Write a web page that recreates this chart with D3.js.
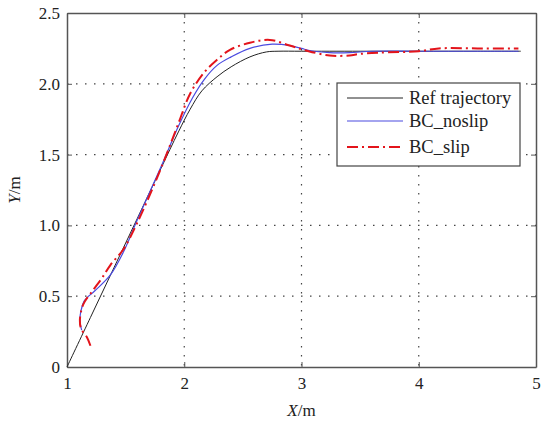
<!DOCTYPE html>
<html>
<head>
<meta charset="utf-8">
<script src="https://cdn.jsdelivr.net/npm/d3@7"></script>
<style>
  body { margin: 0; background: #fff; }
  text { font-family: "Liberation Serif", "Times New Roman", serif; fill: #222; }
</style>
</head>
<body>
<div id="chart"></div>
<script>
// reference trajectory
var refX = [1.0, 1.2, 1.4, 1.6, 1.8, 1.95, 2.05, 2.15, 2.28, 2.4, 2.56, 2.7, 2.8, 3.0, 3.5, 4.0, 4.5, 4.87]
var refY = [0.0, 0.35, 0.70, 1.05, 1.40, 1.66, 1.82, 1.95, 2.05, 2.12, 2.19, 2.225, 2.23, 2.23, 2.23, 2.23, 2.23, 2.23]

// BC_noslip
var noslipX = [1.125, 1.11, 1.12, 1.15, 1.24, 1.37, 1.48, 1.6, 1.8, 1.95, 2.07, 2.17, 2.28, 2.4, 2.56, 2.75, 2.9, 3.0, 3.07, 3.24, 3.41, 3.6, 4.0, 4.5, 4.85]
var noslipY = [0.26, 0.33, 0.40, 0.47, 0.54, 0.65, 0.81, 1.04, 1.41, 1.70, 1.90, 2.03, 2.13, 2.19, 2.25, 2.28, 2.27, 2.25, 2.235, 2.22, 2.22, 2.23, 2.23, 2.23, 2.23]

// BC_slip
var slipX = [1.20, 1.17, 1.12, 1.11, 1.125, 1.15, 1.22, 1.30, 1.37, 1.48, 1.6, 1.8, 1.95, 2.05, 2.17, 2.28, 2.39, 2.56, 2.73, 2.9, 3.04, 3.24, 3.41, 3.49, 3.66, 4.0, 4.17, 4.5, 4.85]
var slipY = [0.15, 0.21, 0.27, 0.33, 0.41, 0.46, 0.54, 0.63, 0.72, 0.83, 1.02, 1.40, 1.72, 1.93, 2.08, 2.17, 2.24, 2.29, 2.31, 2.27, 2.235, 2.20, 2.20, 2.21, 2.22, 2.23, 2.25, 2.25, 2.25]

var xTicks = [1, 2, 3, 4, 5]
var yTicks = [0, 0.5, 1.0, 1.5, 2.0, 2.5]
var legendNames = ['Ref trajectory', 'BC_noslip', 'BC_slip']
var colors = ['#222', '#4a4ae0', '#e3141b']
var dashes = [null, null, '11,4,2,4']
var widths = [1, 1.2, 2]

var margin = {top: 13, right: 6, bottom: 54, left: 67}
var width = 542 - margin.left - margin.right
var height = 421 - margin.top - margin.bottom

var svg = d3.select('#chart')
  .append('svg')
    .attr('width', 542)
    .attr('height', 421)
  .append('g')
    .attr('transform', 'translate(' + margin.left + ',' + margin.top + ')')

var x = d3.scaleLinear().domain([1, 5]).range([0, width])
var y = d3.scaleLinear().domain([0, 2.5]).range([height, 0])

// grid
svg.append('g').selectAll('line').data(xTicks.slice(1, -1)).enter().append('line')
  .attr('x1', d => x(d)).attr('x2', d => x(d)).attr('y1', 0).attr('y2', height)
  .attr('stroke', '#444').attr('stroke-width', 1.2).attr('stroke-dasharray', '1.5,7.5')
svg.append('g').selectAll('line').data(yTicks.slice(1, -1)).enter().append('line')
  .attr('y1', d => y(d)).attr('y2', d => y(d)).attr('x1', 0).attr('x2', width)
  .attr('stroke', '#444').attr('stroke-width', 1.2).attr('stroke-dasharray', '1.5,7.5')

// axes
var fmtY = d => d === 0 ? '0' : d3.format('.1f')(d)
var xAxis = svg.append('g').attr('transform', 'translate(0,' + height + ')')
  .call(d3.axisBottom(x).tickValues(xTicks).tickSizeInner(-5).tickSizeOuter(0).tickPadding(10).tickFormat(d3.format('d')))
var xAxisTop = svg.append('g')
  .call(d3.axisTop(x).tickValues(xTicks).tickSizeInner(-5).tickSizeOuter(0).tickFormat(''))
var yAxis = svg.append('g')
  .call(d3.axisLeft(y).tickValues(yTicks).tickSizeInner(-5).tickSizeOuter(0).tickPadding(7).tickFormat(fmtY))
var yAxisRight = svg.append('g').attr('transform', 'translate(' + width + ',0)')
  .call(d3.axisRight(y).tickValues(yTicks).tickSizeInner(-5).tickSizeOuter(0).tickFormat(''))
;[xAxis, xAxisTop, yAxis, yAxisRight].forEach(function(a) {
  a.selectAll('.domain').attr('stroke', '#555').attr('stroke-width', 1.5)
  a.selectAll('.tick line').attr('stroke', '#555')
  a.selectAll('.tick text').style('font-size', '17px').attr('fill', '#222')
})

// axis labels
var xl = svg.append('text').attr('x', width / 2).attr('y', height + 49)
  .attr('text-anchor', 'middle').style('font-size', '17px')
xl.append('tspan').style('font-style', 'italic').text('X')
xl.append('tspan').text('/m')
var yl = svg.append('text').attr('transform', 'translate(-47,' + (height / 2) + ') rotate(-90)')
  .attr('text-anchor', 'middle').style('font-size', '17px')
yl.append('tspan').style('font-style', 'italic').text('Y')
yl.append('tspan').text('/m')

// lines
var allX = [refX, noslipX, slipX]
var allY = [refY, noslipY, slipY]
var line = d3.line().x(d => x(d[0])).y(d => y(d[1])).curve(d3.curveCatmullRom.alpha(0.5))
for (var i = 0; i < 3; ++i) {
  var pts = allX[i].map((v, j) => [v, allY[i][j]])
  svg.append('path')
    .datum(pts)
    .attr('fill', 'none')
    .attr('stroke', colors[i])
    .attr('stroke-width', widths[i])
    .attr('stroke-dasharray', dashes[i])
    .attr('d', line)
}

// legend
var lg = svg.append('g').attr('transform', 'translate(' + (337 - margin.left) + ',' + (83 - margin.top) + ')')
lg.append('rect').attr('width', 183).attr('height', 83)
  .attr('fill', '#fff').attr('stroke', '#444').attr('stroke-width', 1.2)
var rowY = [15, 38, 64]
for (var i = 0; i < 3; ++i) {
  lg.append('line').attr('x1', 10).attr('x2', 66).attr('y1', rowY[i]).attr('y2', rowY[i])
    .attr('stroke', colors[i]).attr('stroke-width', widths[i]).attr('stroke-dasharray', dashes[i])
  lg.append('text').attr('x', 72).attr('y', rowY[i]).attr('dy', '0.35em')
    .style('font-size', '18.5px').text(legendNames[i])
}
</script>
</body>
</html>
